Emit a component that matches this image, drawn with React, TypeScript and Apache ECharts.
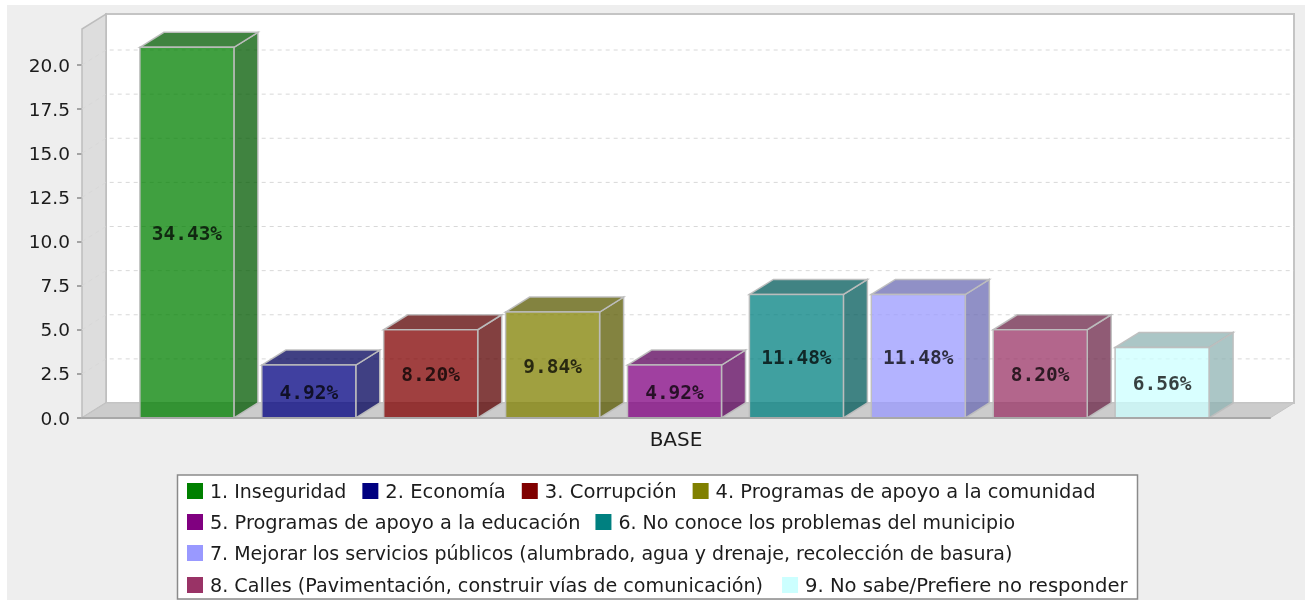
import React, { useEffect, useRef } from "react";
import * as echarts from "echarts";

const categories = ["BASE"];
const seriesNames = [
  "1. Inseguridad",
  "2. Economía",
  "3. Corrupción",
  "4. Programas de apoyo a la comunidad",
  "5. Programas de apoyo a la educación",
  "6. No conoce los problemas del municipio",
  "7. Mejorar los servicios públicos (alumbrado, agua y drenaje, recolección de basura)",
  "8. Calles (Pavimentación, construir vías de comunicación)",
  "9. No sabe/Prefiere no responder",
];
const seriesValues = [21, 3, 5, 6, 3, 7, 7, 5, 4];
const valueLabels = ["34.43%", "4.92%", "8.20%", "9.84%", "4.92%", "11.48%", "11.48%", "8.20%", "6.56%"];
const seriesColors: number[][] = [
  [0, 128, 0],
  [0, 0, 128],
  [128, 0, 0],
  [128, 128, 0],
  [128, 0, 128],
  [0, 128, 128],
  [153, 153, 255],
  [153, 51, 102],
  [204, 255, 255],
];
const yTicks = [0, 2.5, 5, 7.5, 10, 12.5, 15, 17.5, 20];
const legendFontSizes = [19, 19.5, 19.6, 19.4, 19.35, 19, 19, 19.14, 19.6];
const legendRows = [
  [0, 1, 2, 3],
  [4, 5],
  [6],
  [7, 8],
];
const legendRowTops = [481, 512.5, 543.5, 575];
const legendRowGaps = [16, 15, 15, 19];

const DX = 24;
const DY = 15;
const ALPHA = 0.75;
const BAR_W = 94;
const BAR_STEP = 121.9;
const BAR_SHIFT = -1.5;
const rgb = (c: number[]) => `rgb(${c[0]},${c[1]},${c[2]})`;
const rgba = (c: number[], a: number, k = 1) =>
  `rgba(${Math.round(c[0] * k)},${Math.round(c[1] * k)},${Math.round(c[2] * k)},${a})`;

function renderBackdrop(params: any, api: any) {
  const cs = params.coordSys;
  const l = cs.x;
  const r = cs.x + cs.width;
  const t = cs.y;
  const b = cs.y + cs.height;
  const children: any[] = [
    {
      type: "rect",
      shape: { x: l + DX, y: t - DY, width: cs.width, height: cs.height },
      style: { fill: "#ffffff", stroke: "#c4c4c4", lineWidth: 2 },
    },
    {
      type: "polygon",
      shape: { points: [[l, b], [l + DX, b - DY], [l + DX, t - DY], [l, t]] },
      style: { fill: "#dddddd", stroke: "#bdbdbd", lineWidth: 1.5 },
    },
    {
      type: "polygon",
      shape: { points: [[l, b], [r, b], [r + DX, b - DY], [l + DX, b - DY]] },
      style: { fill: "#cccccc", stroke: "#c4c4c4", lineWidth: 1 },
    },
  ];
  yTicks.filter((v) => v > 0).forEach((v) => {
    const y = api.coord([0, v])[1];
    children.push({
      type: "polyline",
      shape: { points: [[l, y], [l + DX, y - DY], [r + DX, y - DY]] },
      style: { fill: "none", stroke: "#d8d8d8", lineWidth: 1, lineDash: [4, 4] },
    });
  });
  return { type: "group", silent: true, children };
}

function makeBarRenderer(i: number) {
  return (params: any, api: any) => {
    const c = seriesColors[i];
    const p = api.coord([0, api.value(1)]);
    const b0 = api.coord([0, 0])[1];
    const x = p[0] + BAR_SHIFT + (i - 4) * BAR_STEP - BAR_W / 2;
    const y = p[1];
    const w = BAR_W;
    const stroke = "rgba(190,190,190,0.95)";
    return {
      type: "group",
      silent: true,
      children: [
        {
          type: "polygon",
          shape: { points: [[x + w, y], [x + w + DX, y - DY], [x + w + DX, b0 - DY], [x + w, b0]] },
          style: { fill: rgba(c, ALPHA, 0.7), stroke, lineWidth: 1.5 },
        },
        {
          type: "polygon",
          shape: { points: [[x, y], [x + DX, y - DY], [x + w + DX, y - DY], [x + w, y]] },
          style: { fill: rgba(c, ALPHA, 0.7), stroke, lineWidth: 1.5 },
        },
        {
          type: "rect",
          shape: { x, y, width: w, height: b0 - y },
          style: { fill: rgba(c, ALPHA), stroke, lineWidth: 1.5 },
        },
        {
          type: "text",
          style: {
            text: valueLabels[i],
            x: x + w / 2,
            y: (y + b0) / 2 + 1,
            align: "center",
            verticalAlign: "middle",
            font: 'bold 19.5px "DejaVu Sans Mono"',
            fill: "rgba(0,0,0,0.75)",
          },
        },
      ],
    };
  };
}

export default function App() {
  const ref = useRef<HTMLDivElement>(null);
  useEffect(() => {
    const chart = echarts.init(ref.current!, undefined, { renderer: "svg" });
    const font = '"DejaVu Sans"';
    chart.setOption({
      animation: false,
      backgroundColor: "#ffffff",
      graphic: [
        {
          type: "rect",
          z: -10,
          silent: true,
          shape: { x: 7, y: 5, width: 1298, height: 595 },
          style: { fill: "#eeeeee" },
        },
        {
          type: "rect",
          z: 1,
          silent: true,
          shape: { x: 177.5, y: 475, width: 960, height: 124 },
          style: { fill: "#ffffff", stroke: "#8a8a8a", lineWidth: 1.5 },
        },
      ],
      grid: { left: 82, top: 29, width: 1188, height: 389, containLabel: false },
      legend: legendRows.map((row, r) => ({
        data: row.map((i) => ({
          name: seriesNames[i],
          textStyle: { fontSize: legendFontSizes[i] },
        })),
        left: 187,
        top: legendRowTops[r],
        width: 1000,
        padding: 0,
        orient: "horizontal",
        icon: "rect",
        itemWidth: 16,
        itemHeight: 16,
        itemGap: legendRowGaps[r],
        selectedMode: false,
        z: 5,
        textStyle: {
          fontFamily: font,
          fontSize: 19,
          color: "#1c1c1c",
          padding: [0, 1, 0, 2],
        },
      })),
      xAxis: {
        type: "category",
        data: categories,
        z: 3,
        axisLine: { show: true, lineStyle: { color: "#a8a8a8", width: 2 } },
        axisTick: { show: false },
        axisLabel: { fontFamily: font, fontSize: 20, color: "#1c1c1c", margin: 11 },
      },
      yAxis: {
        type: "value",
        min: 0,
        max: 22.04,
        splitLine: { show: false },
        axisLine: { show: false },
        axisTick: { show: true, length: 5, lineStyle: { color: "#8a8a8a", width: 1.5 }, customValues: yTicks },
        axisLabel: {
          fontFamily: font,
          fontSize: 18.5,
          color: "#1c1c1c",
          margin: 12,
          padding: [2, 0, 0, 0],
          customValues: yTicks,
          formatter: (v: number) => v.toFixed(1),
        },
      },
      series: [
        {
          type: "custom",
          name: "backdrop",
          renderItem: renderBackdrop,
          data: [[0, 0]],
          encode: { x: 0, y: 1 },
          silent: true,
          z: 1,
          clip: false,
        },
        ...seriesNames.map((name, i) => ({
          type: "custom",
          name,
          renderItem: makeBarRenderer(i),
          data: [[0, seriesValues[i]]],
          encode: { x: 0, y: 1 },
          itemStyle: { color: rgb(seriesColors[i]) },
          silent: true,
          z: 2,
          clip: false,
        })),
      ],
    });
    return () => chart.dispose();
  }, []);
  return (
    <div
      ref={ref}
      style={{
        position: "absolute",
        left: 0,
        top: 0,
        width: 1305,
        height: 600,
        overflow: "hidden",
        filter: "blur(0.55px)",
      }}
    />
  );
}
